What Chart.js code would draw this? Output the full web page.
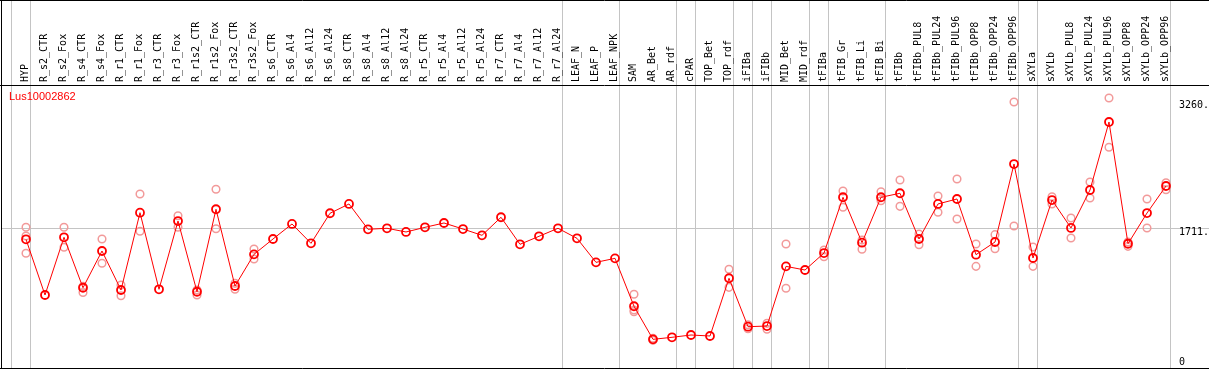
<!DOCTYPE html>
<html>
<head>
<meta charset="utf-8">
<script src="https://cdn.jsdelivr.net/npm/chart.js@4/dist/chart.umd.min.js"></script>
<style>
  html, body { margin: 0; padding: 0; background: #fff; }
  canvas { display: block; }
</style>
</head>
<body>
<canvas id="chart" width="1209" height="370"></canvas>
<script>
const geneName = 'Lus10002862';

const samples = [
  'HYP', 'R_s2_CTR', 'R_s2_Fox', 'R_s4_CTR', 'R_s4_Fox', 'R_r1_CTR', 'R_r1_Fox', 'R_r3_CTR', 'R_r3_Fox',
  'R_r1s2_CTR', 'R_r1s2_Fox', 'R_r3s2_CTR', 'R_r3s2_Fox',
  'R_s6_CTR', 'R_s6_Al4', 'R_s6_Al12', 'R_s6_Al24', 'R_s8_CTR', 'R_s8_Al4', 'R_s8_Al12', 'R_s8_Al24',
  'R_r5_CTR', 'R_r5_Al4', 'R_r5_Al12', 'R_r5_Al24', 'R_r7_CTR', 'R_r7_Al4', 'R_r7_Al12', 'R_r7_Al24',
  'LEAF_N', 'LEAF_P', 'LEAF_NPK', 'SAM', 'AR_Bet', 'AR_rdf', 'cPAR', 'TOP_Bet', 'TOP_rdf',
  'iFIBa', 'iFIBb', 'MID_Bet', 'MID_rdf', 'tFIBa', 'tFIB_Gr', 'tFIB_Li', 'tFIB_Bi',
  'tFIBb', 'tFIBb_PUL8', 'tFIBb_PUL24', 'tFIBb_PUL96', 'tFIBb_OPP8', 'tFIBb_OPP24', 'tFIBb_OPP96',
  'sXYLa', 'sXYLb', 'sXYLb_PUL8', 'sXYLb_PUL24', 'sXYLb_PUL96', 'sXYLb_OPP8', 'sXYLb_OPP24', 'sXYLb_OPP96'
];

// mean expression per sample
const means = [
  1576, 894, 1601, 983, 1433, 955, 1902, 964, 1800, 934, 1944, 1004, 1392,
  1580, 1764, 1527, 1895, 2009, 1699, 1711, 1666, 1723, 1776, 1702, 1625, 1846, 1515, 1613, 1711,
  1588, 1294, 1343, 756, 351, 376, 404, 392, 1099,
  506, 514, 1245, 1200, 1408, 2091, 1535, 2091,
  2140, 1580, 2009, 2070, 1388, 1543, 2498,
  1347, 2057, 1715, 2180, 3013, 1522, 1898, 2229
];

// replicates (null = not visible)
const repA = [
  1723, null, 1723, 1000, 1580, 1017, 2131, null, 1865, 955, 2189, 1037, 1457,
  null, null, null, null, null, null, null, null, null, null, null, null, null, null, null, null,
  null, null, null, 903, 365, null, null, null, 1209,
  530, 547, 1519, null, 1445, 2168, 1568, 2159,
  2302, 1641, 2106, 2315, 1519, 1633, 3258,
  1482, 2098, 1837, 2278, 3307, 1543, 2070, 2269
];
const repB = [
  1405, null, 1478, 925, 1282, 885, 1674, null, 1723, 894, 1706, 964, 1335,
  null, null, null, null, null, null, null, null, null, null, null, null, null, null, null, null,
  null, null, null, 710, 340, null, null, null, 988,
  480, 474, 976, null, 1363, 1968, 1454, 2049,
  1980, 1510, 1907, 1825, 1245, 1461, 1739,
  1245, 2009, 1592, 2082, 2703, 1490, 1715, 2184
];
const repC = [
  1617, null, null, null, null, null, null, null, null, null, null, null, null,
  null, null, null, null, null, null, null, null, null, null, null, null, null, null, null, null,
  null, null, null, 690, null, null, null, null, null,
  null, null, null, null, null, null, null, null,
  null, null, null, null, null, null, null,
  null, null, null, null, null, null, null, null
];

const yTicks = [0, 1711, 3260];
const yTickLabels = ['0', '1711.', '3260.'];
const yMax = 3466;

// indexes after which a grey separator is drawn
const groupEnds = [-1, 0, 28, 31, 34, 35, 37, 38, 39, 41, 42, 45, 52, 53, 60];

const MONO = '"DejaVu Sans Mono", monospace';

const framePlugin = {
  id: 'frame',
  beforeDraw(chart) {
    const {ctx, chartArea, scales: {x, y}} = chart;
    const W = chart.width;
    ctx.save();
    ctx.fillStyle = '#fff';
    ctx.fillRect(0, 0, W, chart.height);

    // grey separators
    ctx.strokeStyle = '#c4c4c4';
    ctx.lineWidth = 1;
    ctx.beginPath();
    groupEnds.forEach(i => {
      const px = Math.round(x.getPixelForValue(i) + 4) + 0.5;
      ctx.moveTo(px, 0);
      ctx.lineTo(px, chartArea.bottom);
    });
    const gy = Math.round(y.getPixelForValue(yTicks[1])) + 0.5;
    ctx.moveTo(1, gy);
    ctx.lineTo(W, gy);
    ctx.stroke();

    // black frame
    ctx.strokeStyle = '#000';
    ctx.beginPath();
    ctx.moveTo(0, 0.5); ctx.lineTo(W, 0.5);
    ctx.moveTo(0, chartArea.top + 0.5); ctx.lineTo(W, chartArea.top + 0.5);
    ctx.moveTo(0, chartArea.bottom + 0.5); ctx.lineTo(W, chartArea.bottom + 0.5);
    ctx.moveTo(1.5, 0); ctx.lineTo(1.5, chartArea.bottom + 1);
    ctx.stroke();

    // y tick labels on the right
    ctx.fillStyle = '#000';
    ctx.font = '10px ' + MONO;
    ctx.textAlign = 'left';
    ctx.textBaseline = 'middle';
    yTicks.forEach((v, i) => {
      const py = Math.min(y.getPixelForValue(v) + 4, chartArea.bottom - 6);
      ctx.fillText(yTickLabels[i], 1179, py);
    });

    // gene name
    ctx.fillStyle = '#ff0000';
    ctx.font = '11px "Liberation Sans", Arial, sans-serif';
    ctx.fillText(geneName, 9, 97);
    ctx.restore();
  }
};

const repStyle = {
  showLine: false,
  pointRadius: 3.8,
  pointBorderWidth: 1.5,
  pointBorderColor: '#f29a9a',
  pointBackgroundColor: 'rgba(0,0,0,0)',
  pointHoverRadius: 3.8
};

new Chart(document.getElementById('chart').getContext('2d'), {
  type: 'line',
  data: {
    labels: samples,
    datasets: [
      {
        label: geneName,
        data: means,
        borderColor: '#ff0000',
        borderWidth: 1,
        pointRadius: 4,
        pointBorderWidth: 1.8,
        pointBorderColor: '#ff0000',
        pointBackgroundColor: 'rgba(0,0,0,0)',
        tension: 0
      },
      {label: 'rep1', data: repA, ...repStyle},
      {label: 'rep2', data: repB, ...repStyle},
      {label: 'rep3', data: repC, ...repStyle}
    ]
  },
  options: {
    responsive: false,
    animation: false,
    devicePixelRatio: 1,
    layout: {autoPadding: false, padding: {left: 26, right: 43, top: 0, bottom: 2}},
    plugins: {legend: {display: false}, tooltip: {enabled: false}},
    scales: {
      x: {
        type: 'category',
        position: 'top',
        offset: false,
        grid: {display: false, drawTicks: false},
        border: {display: false},
        ticks: {
          autoSkip: false,
          minRotation: 90,
          maxRotation: 90,
          padding: 3,
          labelOffset: 11,
          color: '#000',
          font: {family: MONO, size: 10}
        },
        afterFit: scale => { scale.height = 85; }
      },
      y: {
        type: 'linear',
        display: false,
        min: 0,
        max: yMax
      }
    }
  },
  plugins: [framePlugin]
});
</script>
</body>
</html>
